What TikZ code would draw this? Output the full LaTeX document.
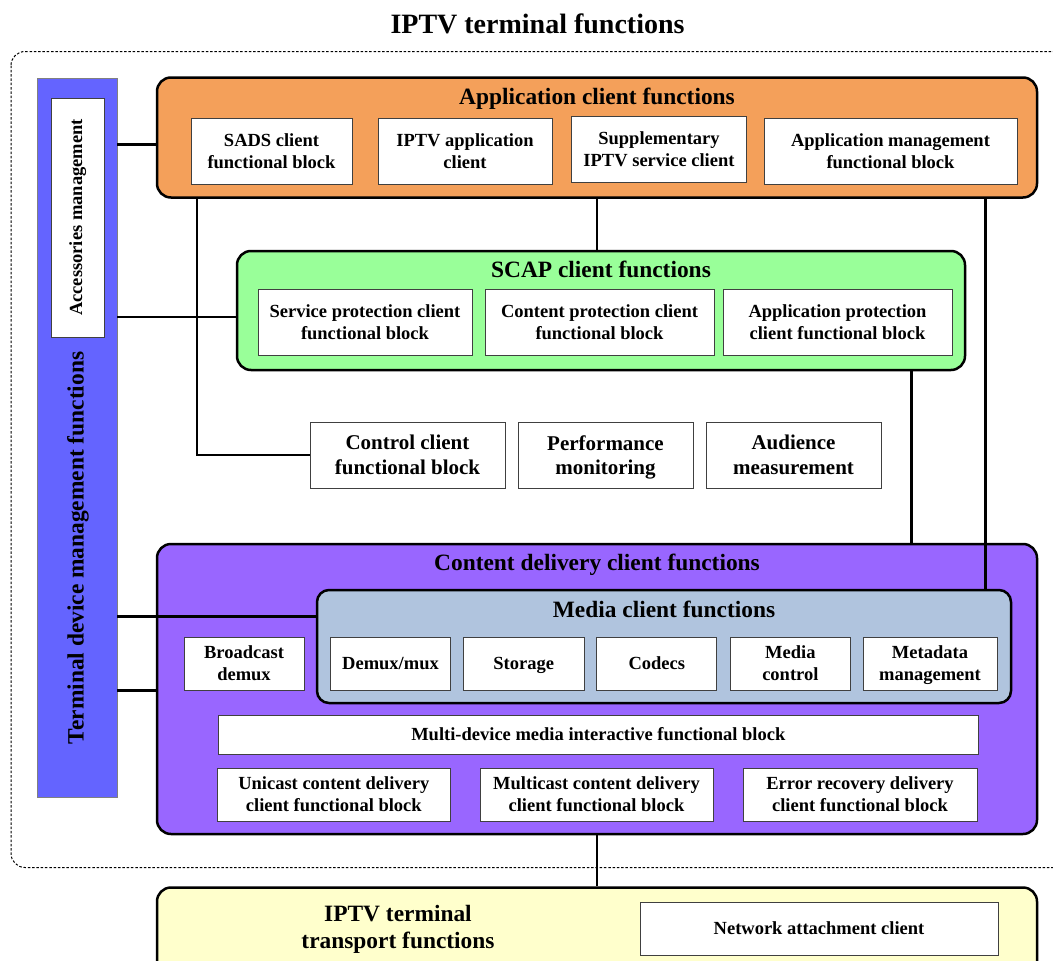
\documentclass[tikz,border=0pt]{standalone}
\usepackage{fontspec}
\setmainfont{Liberation Serif}
\usetikzlibrary{positioning}

\definecolor{appfill}{RGB}{244,160,90}
\definecolor{scapfill}{RGB}{153,255,153}
\definecolor{cdffill}{RGB}{153,102,255}
\definecolor{mediafill}{RGB}{176,196,222}
\definecolor{tptfill}{RGB}{255,255,204}
\definecolor{tdmfill}{RGB}{100,100,255}

\newcommand{\blkfont}{\fontsize{18.5}{22.3}\selectfont\bfseries}
\newcommand{\bigblkfont}{\fontsize{21}{24.5}\selectfont\bfseries}
\newcommand{\hdfont}{\fontsize{23.4}{27.5}\selectfont\bfseries}
\newcommand{\ttlfont}{\fontsize{28}{32}\selectfont\bfseries}

\tikzset{
every node/.style={inner sep=1pt},
group/.style={draw, line width=2.5pt, rounded corners=14pt}, % the big function groups
block/.style={draw=black!75, fill=white, line width=0.8pt, align=center, font=\blkfont}, % functional blocks
heading/.style={anchor=base, font=\hdfont}, % group titles
link/.style={line width=2.5pt}, % connections between groups
frame/.style={line width=1pt, dash pattern=on 2.5pt off 1.8pt, rounded corners=14pt},
}

\begin{document}
\begin{tikzpicture}[x=1pt, y=-1pt]
  \useasboundingbox (0,0) rectangle (1053,961);
  \node[font=\ttlfont, anchor=base] (title) at (537.5,34) {IPTV terminal functions};
  \draw[frame] (11,51.5) rectangle (1090,867.5);

  % terminal device management
  \node[draw=black!50, fill=tdmfill, line width=0.8pt, minimum width=80pt, minimum height=719pt] (tdm) at (77,437.5) {};
  \node[draw=black!75, fill=white, line width=0.8pt, rotate=90, minimum width=239pt, minimum height=53.5pt, font=\blkfont] (acc) at (77.75,217.5) {Accessories management};
  \node[rotate=90, font=\hdfont] (tdmtext) at (78,548) {Terminal device management functions};

  % application client functions
  \node[group, fill=appfill, minimum width=880pt, minimum height=120pt] (app) at (597,137.5) {};
  \node[heading] (apphead) at ([yshift=-28.5pt]app.north) {Application client functions};
  \node[block, minimum width=161pt, minimum height=66pt] (sads) at (271.5,151) {SADS client\\functional block};
  \node[block, minimum width=174pt, minimum height=66pt] (iptvapp) at (465,151) {IPTV application\\client};
  \node[block, minimum width=175pt, minimum height=66pt] (supp) at (659,149) {Supplementary\\IPTV service client};
  \node[block, minimum width=253pt, minimum height=66pt] (appmgmt) at (890.5,151) {Application management\\functional block};

  % SCAP client functions
  \node[group, fill=scapfill, minimum width=728pt, minimum height=119pt] (scap) at (601,310.5) {};
  \node[heading] (scaphead) at ([yshift=-28pt]scap.north) {SCAP client functions};
  \node[block, minimum width=214pt, minimum height=66pt] (svcprot) at (365,322) {Service protection client\\functional block};
  \node[block, minimum width=229pt, minimum height=66pt] (cntprot) at (599.5,322) {Content protection client\\functional block};
  \node[block, minimum width=229pt, minimum height=66pt] (appprot) at (837.5,322) {Application protection\\client functional block};

  \node[block, font=\bigblkfont, minimum width=195pt, minimum height=66pt] (ctrl) at (407.5,455) {Control client\\functional block};
  \node[block, font=\bigblkfont, minimum width=175pt, minimum height=66pt] (perf) at (605.5,455) {Performance\\monitorin\smash{g}};
  \node[block, font=\bigblkfont, minimum width=175pt, minimum height=66pt] (aud) at (793.5,455) {Audience\\measurement};

  % content delivery client functions
  \node[group, fill=cdffill, minimum width=880pt, minimum height=290pt] (cdf) at (597,689) {};
  \node[heading] (cdfhead) at ([yshift=-28pt]cdf.north) {Content delivery client functions};
  \node[group, fill=mediafill, rounded corners=12pt, minimum width=694pt, minimum height=113pt] (media) at (664,646.5) {};
  \node[heading] (mediahead) at ([yshift=-28.5pt]media.north) {Media client functions};
  \node[block, minimum width=120pt, minimum height=53pt] (bcast) at (244,663.5) {Broadcast\\demux};
  \node[block, minimum width=120pt, minimum height=53pt] (demux) at (390.5,663.5) {Demux/mux};
  \node[block, minimum width=120.5pt, minimum height=53pt] (storage) at (523.75,663.5) {Stora\smash{g}e};
  \node[block, minimum width=120pt, minimum height=53pt] (codecs) at (656.85,663.5) {Codecs};
  \node[block, minimum width=120.7pt, minimum height=53pt] (mctl) at (790.35,663.5) {Media\\control};
  \node[block, minimum width=134pt, minimum height=53pt] (meta) at (930,663.5) {Metadata\\mana\smash{g}ement};
  \node[block, minimum width=760pt, minimum height=39pt] (multidev) at (598.3,734.5) {Multi-device media interactive functional block};
  \node[block, minimum width=233.7pt, minimum height=53pt] (uni) at (333.85,794.5) {Unicast content delivery\\client functional block};
  \node[block, minimum width=233pt, minimum height=53pt] (multi) at (596.5,794.5) {Multicast content delivery\\client functional block};
  \node[block, minimum width=234pt, minimum height=53pt] (err) at (860,794.5) {Error recovery delivery\\client functional block};

  % transport functions
  \node[group, fill=tptfill, minimum width=880pt, minimum height=113pt] (tpt) at (597,944) {};
  \node[align=center, font=\fontsize{23.4}{27}\selectfont\bfseries] (tpttext) at (398,929) {IPTV terminal\\transport functions};
  \node[block, minimum width=358pt, minimum height=53pt] (nac) at (819,928.5) {Network attachment client};

  % connections
  \coordinate (ctrldrop) at ([xshift=41pt]app.south west);
  \coordinate (scapdrop) at ([xshift=-55pt]scap.south east);
  \coordinate (appdrop) at ([xshift=-53pt]app.south east);
  \draw[link] ([yshift=-7pt]app.west) -- ([yshift=-7pt]app.west -| tdm.east);
  \draw[link] ([yshift=-6.5pt]scap.west) -- ([yshift=-6.5pt]scap.west -| tdm.east);
  \draw[link] ([yshift=30pt]media.west) -- ([yshift=30pt]media.west -| tdm.east);
  \draw[link] ([yshift=-1.5pt]cdf.west) -- ([yshift=-1.5pt]cdf.west -| tdm.east);
  \draw[link] (app.south) -- (app.south |- scap.north);
  \draw[link] (ctrldrop) |- (ctrl.west);
  \draw[link] (scapdrop) -- (scapdrop |- cdf.north);
  \draw[link] (appdrop) -- (appdrop |- media.north);
  \draw[link] (cdf.south) -- (tpt.north);
\end{tikzpicture}
\end{document}
